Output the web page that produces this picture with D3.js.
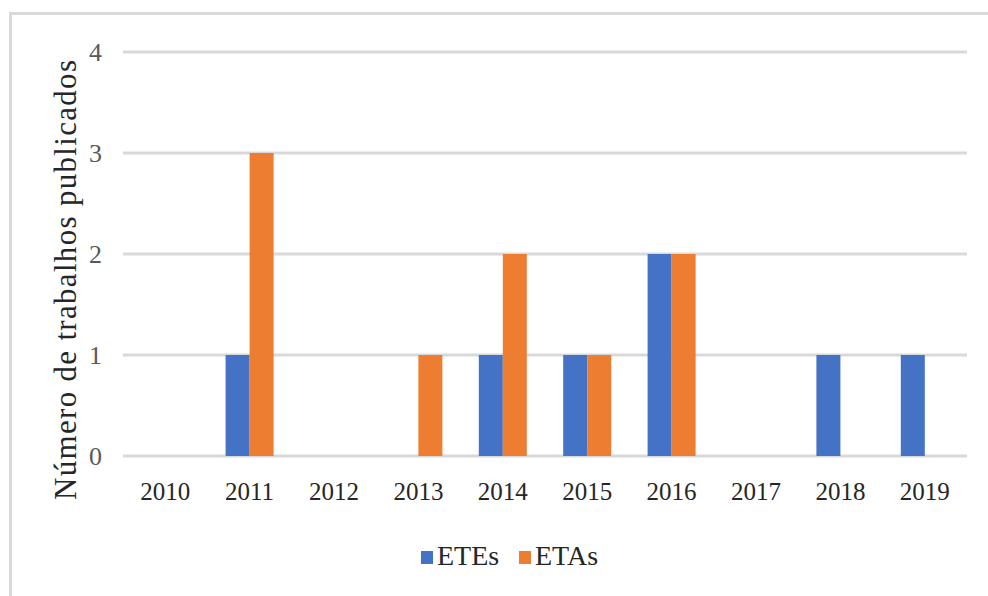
<html>
<head>
<meta charset="UTF-8">
<script src="https://cdn.jsdelivr.net/npm/d3@7"></script>
<style>
  body { margin: 0; background: #fff; }
  text { font-family: "Liberation Serif", "DejaVu Serif", serif; fill: #262626; }
</style>
</head>
<body>
<div id="chart"></div>
<script>
var years = ["2010", "2011", "2012", "2013", "2014", "2015", "2016", "2017", "2018", "2019"];
var seriesNames = ["ETEs", "ETAs"];
var etes = [0, 1, 0, 0, 1, 1, 2, 0, 1, 1];
var etas = [0, 3, 0, 1, 2, 1, 2, 0, 0, 0];
var yTicks = [0, 1, 2, 3, 4];
var colors = ["#4472C4", "#ED7D31"];

var W = 988, H = 596;
var svg = d3.select("#chart").append("svg").attr("width", W).attr("height", H);

// chart area border (only left and top edges visible in the picture)
svg.append("path").attr("d", "M10.5,596 L10.5,13.5 L988,13.5")
  .attr("fill", "none").attr("stroke", "#d9d9d9").attr("stroke-width", 3);

var x = d3.scaleBand().domain(years).range([123, 967]).padding(0);
var x1 = d3.scaleBand().domain(seriesNames).range([0, 48]).padding(0);
var y = d3.scaleLinear().domain([0, 4]).range([456, 52]);

// gridlines
svg.append("g").selectAll("line").data(yTicks).enter().append("line")
  .attr("x1", 123).attr("x2", 967)
  .attr("y1", function(d){ return y(d); }).attr("y2", function(d){ return y(d); })
  .attr("stroke", "#d9d9d9").attr("stroke-width", 3);

// y tick labels
svg.append("g").selectAll("text").data(yTicks).enter().append("text")
  .attr("x", 102).attr("y", function(d){ return y(d); }).attr("dy", "0.35em")
  .attr("text-anchor", "end").style("font-size", "26px").style("fill", "#595959")
  .text(function(d){ return d; });

// x tick labels
svg.append("g").selectAll("text").data(years).enter().append("text")
  .attr("x", function(d){ return x(d) + x.bandwidth() / 2; }).attr("y", 500)
  .attr("text-anchor", "middle").style("font-size", "25px").text(function(d){ return d; });

// bars
var data = [etes, etas];
data.forEach(function(vals, s){
  svg.append("g").selectAll("rect").data(vals).enter().append("rect")
    .attr("x", function(d, i){ return x(years[i]) + x.bandwidth() / 2 - 24 + x1(seriesNames[s]); })
    .attr("width", x1.bandwidth())
    .attr("y", function(d){ return y(d); })
    .attr("height", function(d){ return y(0) - y(d); })
    .attr("fill", colors[s]);
});

// y axis title
svg.append("text").attr("transform", "translate(76,280) rotate(-90)")
  .attr("text-anchor", "middle").style("font-size", "31px")
  .attr("textLength", 440).attr("lengthAdjust", "spacing")
  .text("Número de trabalhos publicados");

// legend
var legendX = [421, 519];
seriesNames.forEach(function(name, i){
  svg.append("rect").attr("x", legendX[i]).attr("y", 551).attr("width", 12).attr("height", 13)
    .attr("fill", colors[i]);
  svg.append("text").attr("x", legendX[i] + 16).attr("y", 565)
    .style("font-size", "28px").text(name);
});
</script>
</body>
</html>
